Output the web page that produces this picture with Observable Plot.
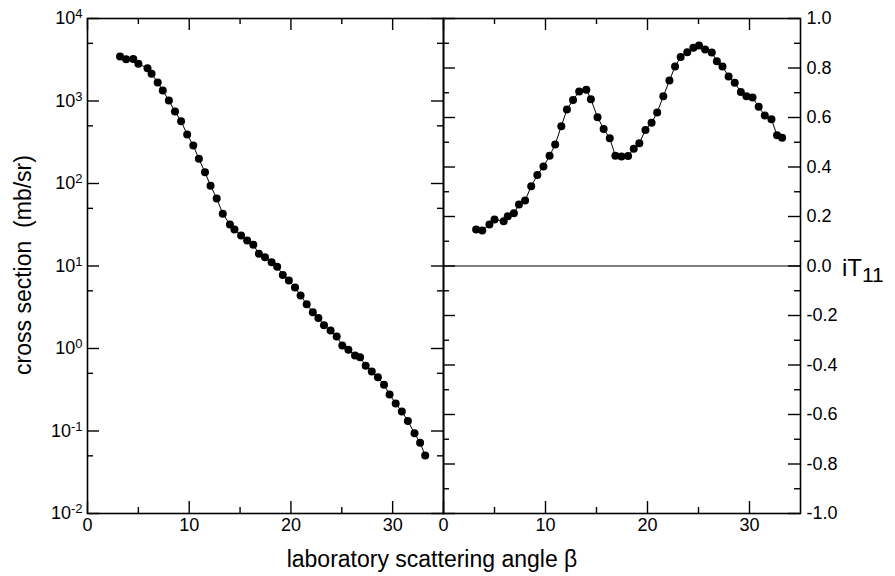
<!DOCTYPE html>
<html>
<head>
<meta charset="utf-8">
<script src="https://cdn.jsdelivr.net/npm/d3@7"></script>
<script src="https://cdn.jsdelivr.net/npm/@observablehq/plot@0.6"></script>
<style>
  body { margin: 0; background: #fff; font-family: "Liberation Sans", Arial, sans-serif; }
  #wrap { position: relative; width: 895px; height: 576px; overflow: hidden; background: #fff; }
  #left, #right { position: absolute; top: 0; }
  #left { left: 0; }
  #right { left: 443px; }
  .ytitle { position: absolute; left: 23px; top: 265px; transform: translate(-50%, -50%) rotate(-90deg);
            font-size: 23px; white-space: pre; color: #000; line-height: 1; }
  .xtitle { position: absolute; left: 432px; top: 559px; transform: translate(-50%, -50%);
            font-size: 23px; white-space: pre; color: #000; line-height: 1; }
  .it { position: absolute; left: 842px; top: 256px; font-size: 24px; color: #000; line-height: 1; white-space: pre; }
  .it sub { font-size: 21px; position: relative; top: 6px; vertical-align: baseline; }
</style>
</head>
<body>
<div id="wrap">
  <div id="left"></div>
  <div id="right"></div>
  <div class="ytitle">cross section  (mb/sr)</div>
  <div class="xtitle">laboratory scattering angle β</div>
  <div class="it">iT<sub>11</sub></div>
</div>
<script>
// ---- data ----
const angles = [3.2, 3.8, 4.5, 5.0, 5.9, 6.3, 6.9, 7.4, 8.0, 8.6, 9.2, 9.8, 10.4, 10.95, 11.55, 12.1, 12.7, 13.3, 14.0, 14.45,
  15.1, 15.7, 16.3, 16.85, 17.45, 18.1, 18.65, 19.2, 19.8, 20.4, 20.95, 21.55, 22.15, 22.7, 23.25, 23.9, 24.5, 25.05, 25.65, 26.3,
  26.8, 27.35, 27.95, 28.55, 29.15, 29.7, 30.3, 30.9, 31.5, 32.15, 32.7, 33.2];
const crossSection = [3460, 3210, 3230, 2820, 2500, 2140, 1680, 1340, 1014, 746, 569, 393, 289, 199, 137, 94, 66, 43, 31.8, 27.7,
  23.4, 20.4, 18.1, 14.1, 12.8, 11.1, 9.8, 7.8, 6.67, 5.49, 4.39, 3.44, 2.75, 2.35, 1.92, 1.65, 1.40, 1.087, 0.964, 0.822,
  0.785, 0.617, 0.526, 0.449, 0.363, 0.277, 0.215, 0.172, 0.132, 0.094, 0.072, 0.0505];
const iT11 = [0.147, 0.143, 0.168, 0.188, 0.181, 0.201, 0.213, 0.248, 0.265, 0.322, 0.368, 0.402, 0.445, 0.491, 0.565, 0.632, 0.671, 0.705, 0.712, 0.674,
  0.601, 0.554, 0.516, 0.445, 0.442, 0.444, 0.474, 0.496, 0.550, 0.579, 0.620, 0.686, 0.749, 0.806, 0.844, 0.864, 0.882, 0.891, 0.875, 0.863,
  0.827, 0.806, 0.766, 0.740, 0.703, 0.686, 0.681, 0.643, 0.608, 0.593, 0.528, 0.518];

const xDomain = [0, 35];
const xLabelTicks = [0, 10, 20, 30];
const xMinorTicks = [5, 15, 25];
const logDomain = [1e-2, 1e4];
const decadeTicks = [1e-2, 1e-1, 1e0, 1e1, 1e2, 1e3, 1e4];
const logMinorTicks = [5e-2, 5e-1, 5e0, 5e1, 5e2, 5e3];
const tDomain = [-1, 1];
const tMajorTicks = [-1.0, -0.8, -0.6, -0.4, -0.2, 0.0, 0.2, 0.4, 0.6, 0.8, 1.0];
const tMinorTicks = [-0.9, -0.7, -0.5, -0.3, -0.1, 0.1, 0.3, 0.5, 0.7, 0.9];

const rows = angles.map((a, i) => ({angle: a, xs: crossSection[i], t: iT11[i]}));

// ---- geometry ----
const H = 576, MT = 18, MB = 63;
const innerH = H - MT - MB;            // 495
const MAJ = 12, MIN = 6, SW = 1.4;
const FS = 18;
const R = 4;
const font = "'Liberation Sans', Arial, sans-serif";

function tickMarks(innerW, yMajor, yMinor) {
  return [
    Plot.ruleX(xLabelTicks, {insetTop: innerH - MAJ, stroke: "black", strokeWidth: SW}),
    Plot.ruleX(xLabelTicks, {insetBottom: innerH - MAJ, stroke: "black", strokeWidth: SW}),
    Plot.ruleX(xMinorTicks, {insetTop: innerH - MIN, stroke: "black", strokeWidth: SW}),
    Plot.ruleX(xMinorTicks, {insetBottom: innerH - MIN, stroke: "black", strokeWidth: SW}),
    Plot.ruleY(yMajor, {insetRight: innerW - MAJ, stroke: "black", strokeWidth: SW}),
    Plot.ruleY(yMajor, {insetLeft: innerW - MAJ, stroke: "black", strokeWidth: SW}),
    Plot.ruleY(yMinor, {insetRight: innerW - MIN, stroke: "black", strokeWidth: SW}),
    Plot.ruleY(yMinor, {insetLeft: innerW - MIN, stroke: "black", strokeWidth: SW})
  ];
}

// ---- left panel: cross section (log) ----
const LW = 444, LML = 87, LMR = 1;
const leftPlot = Plot.plot({
  width: LW, height: H, marginLeft: LML, marginRight: LMR, marginTop: MT, marginBottom: MB,
  style: {fontFamily: font, fontSize: FS + "px", background: "transparent", overflow: "visible", color: "black"},
  x: {domain: xDomain, label: null},
  y: {type: "log", domain: logDomain, label: null},
  marks: [
    ...tickMarks(LW - LML - LMR, decadeTicks, logMinorTicks),
    Plot.axisX({ticks: xLabelTicks, tickSize: 0, tickPadding: 5, fontSize: FS, label: null}),
    Plot.axisY({ticks: decadeTicks, tickSize: 0, tickPadding: 5, fontSize: FS, label: null,
      tickFormat: d => String(Math.round(Math.log10(d)))}),
    Plot.line(rows, {x: "angle", y: "xs", stroke: "black", strokeWidth: 1}),
    Plot.dot(rows, {x: "angle", y: "xs", r: R, fill: "black", stroke: "none"}),
    Plot.frame({stroke: "black", strokeWidth: 1.6})
  ]
});
// superscript exponents on the log axis labels
leftPlot.querySelectorAll('g[aria-label="y-axis tick label"] text').forEach(t => {
  const e = t.textContent;
  t.textContent = "10";
  const ts = document.createElementNS("http://www.w3.org/2000/svg", "tspan");
  ts.setAttribute("dy", "-6");
  ts.setAttribute("font-size", "13");
  ts.textContent = e;
  t.appendChild(ts);
});
document.getElementById("left").appendChild(leftPlot);

// ---- right panel: iT11 (linear, right axis) ----
const RW = 452, RML = 0, RMR = 95;
const rightPlot = Plot.plot({
  width: RW, height: H, marginLeft: RML, marginRight: RMR, marginTop: MT, marginBottom: MB,
  style: {fontFamily: font, fontSize: FS + "px", background: "transparent", overflow: "visible", color: "black"},
  x: {domain: xDomain, label: null},
  y: {domain: tDomain, label: null},
  marks: [
    ...tickMarks(RW - RML - RMR, tMajorTicks, tMinorTicks),
    Plot.ruleY([0], {stroke: "black", strokeWidth: 1}),
    Plot.axisX({ticks: xLabelTicks, tickSize: 0, tickPadding: 5, fontSize: FS, label: null}),
    Plot.axisY({anchor: "right", ticks: tMajorTicks, tickSize: 0, tickPadding: 6, fontSize: FS, label: null,
      tickFormat: d => (Math.abs(d) < 1e-9 ? 0 : d).toFixed(1)}),
    Plot.line(rows, {x: "angle", y: "t", stroke: "black", strokeWidth: 1}),
    Plot.dot(rows, {x: "angle", y: "t", r: R, fill: "black", stroke: "none"}),
    Plot.frame({stroke: "black", strokeWidth: 1.6})
  ]
});
document.getElementById("right").appendChild(rightPlot);
</script>
</body>
</html>
